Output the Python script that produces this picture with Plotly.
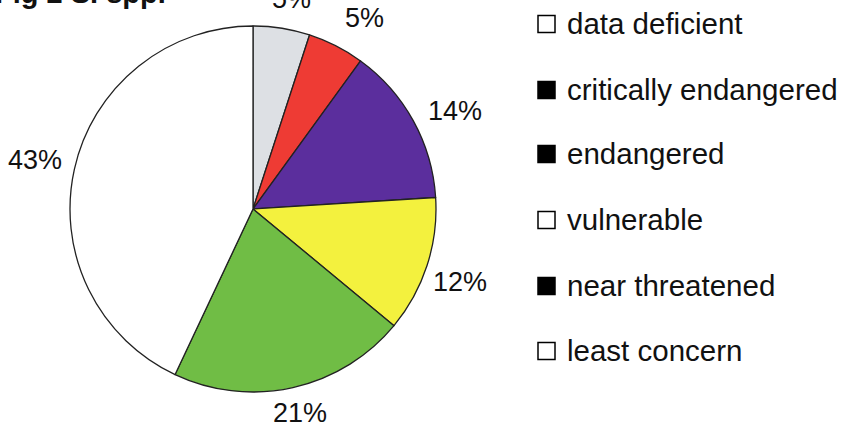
import math
import plotly.graph_objects as go

# IUCN status shares (percent of species)
categories = ["data deficient", "critically endangered", "endangered",
              "vulnerable", "near threatened", "least concern"]
shares = [5, 5, 14, 12, 21, 43]
slice_colors = ["#dde0e4", "#ee3b34", "#5b2e9d", "#f3f13e", "#70bd45", "#ffffff"]
legend_fills = ["white", "black", "black", "white", "black", "white"]

# Label placement: distance from the centre (px) and a small angular nudge (deg)
label_dist = [214, 221, 224, 220, 209, 223]
label_nudge = [1.5, 3.4, 2.9, 1.5, -0.4, 0.1]

W, H = 845, 430
cx, cy, r = 253, 209, 183  # pie centre and radius in pixels
FONT = "Liberation Sans, Arial"
PCT_SIZE = 27

fig = go.Figure()
fig.add_trace(go.Pie(
    labels=categories,
    values=shares,
    sort=False,
    direction="clockwise",
    rotation=0,
    marker=dict(colors=slice_colors, line=dict(color="#222222", width=1.3)),
    textinfo="none",
    domain=dict(x=[(cx - r) / W, (cx + r) / W],
                y=[(H - cy - r) / H, (H - cy + r) / H]),
    showlegend=False,
    hoverinfo="label+percent",
))

annotations = []

# Percent labels outside each slice near its mid-angle (clockwise from 12 o'clock)
total = sum(shares)
cum = 0
for v, dist, nudge in zip(shares, label_dist, label_nudge):
    mid = (cum + v / 2) / total * 2 * math.pi + math.radians(nudge)
    cum += v
    px = cx + dist * math.sin(mid)
    py = cy - dist * math.cos(mid)
    annotations.append(dict(text=f"{v}%", xref="paper", yref="paper",
                            x=px / W, y=1 - py / H, xanchor="center", yanchor="middle",
                            showarrow=False,
                            font=dict(family=FONT, size=PCT_SIZE, color="#111111")))

# Legend: square marker + label per category
row_y = [24, 90, 154, 220, 286, 351]
sq = 17
x_sq = 538
shapes = []
for name, fill, yy in zip(categories, legend_fills, row_y):
    shapes.append(dict(type="rect", xref="paper", yref="paper",
                       x0=x_sq / W, x1=(x_sq + sq) / W,
                       y0=1 - (yy + sq / 2) / H, y1=1 - (yy - sq / 2) / H,
                       line=dict(color="black", width=1.5), fillcolor=fill))
    annotations.append(dict(text=name, xref="paper", yref="paper",
                            x=565 / W, y=1 - (yy - 1) / H, xanchor="left", yanchor="middle",
                            showarrow=False,
                            font=dict(family=FONT, size=29.5, color="#111111")))

# Figure caption running off the top edge
annotations.append(dict(text="<b>Fig 2 S. spp.</b>", xref="paper", yref="paper",
                        x=168 / W, y=1 - 11 / H, xanchor="right", yanchor="bottom",
                        showarrow=False,
                        font=dict(family=FONT, size=29, color="#111111")))

fig.update_layout(
    width=W, height=H,
    margin=dict(l=0, r=0, t=0, b=0, pad=0),
    paper_bgcolor="white", plot_bgcolor="white",
    shapes=shapes, annotations=annotations,
)

fig.write_html("out.html")
